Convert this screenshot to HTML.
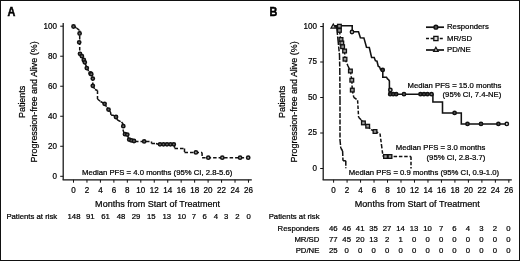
<!DOCTYPE html>
<html><head><meta charset="utf-8"><style>
html,body{margin:0;padding:0;background:#fff;}
body{width:520px;height:261px;overflow:hidden;}
svg{display:block;font-family:"Liberation Sans", sans-serif;filter:blur(0.3px);}
svg text{fill:#000;stroke:#000;stroke-width:0.22px;}
</style></head><body>
<svg width="520" height="261" viewBox="0 0 520 261">
<rect x="0.5" y="0.5" width="519" height="260" fill="#fff" stroke="#111" stroke-width="1"/>
<text transform="translate(7.4,15.8) scale(0.89,1)" font-size="12.2" font-weight="bold" style="stroke-width:0.5px">A</text>
<text transform="translate(25.40,101.90) rotate(-90) scale(0.93,1)" font-size="9.6" text-anchor="middle">Patients</text>
<text transform="translate(37.10,101.90) rotate(-90) scale(0.93,1)" font-size="9.6" text-anchor="middle">Progression-free and Alive (%)</text>
<line x1="63.20" y1="23.00" x2="63.20" y2="179.80" stroke="#111" stroke-width="1.25"/>
<line x1="62.60" y1="179.80" x2="251.80" y2="179.80" stroke="#111" stroke-width="1.25"/>
<line x1="60.20" y1="26.20" x2="63.20" y2="26.20" stroke="#111" stroke-width="1.0"/>
<text transform="translate(57.00,28.55) scale(0.95,1)" font-size="8.5" text-anchor="end">100</text>
<line x1="60.20" y1="56.22" x2="63.20" y2="56.22" stroke="#111" stroke-width="1.0"/>
<text transform="translate(57.00,58.57) scale(0.95,1)" font-size="8.5" text-anchor="end">80</text>
<line x1="60.20" y1="86.24" x2="63.20" y2="86.24" stroke="#111" stroke-width="1.0"/>
<text transform="translate(57.00,88.59) scale(0.95,1)" font-size="8.5" text-anchor="end">60</text>
<line x1="60.20" y1="116.26" x2="63.20" y2="116.26" stroke="#111" stroke-width="1.0"/>
<text transform="translate(57.00,118.61) scale(0.95,1)" font-size="8.5" text-anchor="end">40</text>
<line x1="60.20" y1="146.28" x2="63.20" y2="146.28" stroke="#111" stroke-width="1.0"/>
<text transform="translate(57.00,148.63) scale(0.95,1)" font-size="8.5" text-anchor="end">20</text>
<line x1="60.20" y1="176.30" x2="63.20" y2="176.30" stroke="#111" stroke-width="1.0"/>
<text transform="translate(57.00,178.65) scale(0.95,1)" font-size="8.5" text-anchor="end">0</text>
<line x1="73.50" y1="179.80" x2="73.50" y2="182.70" stroke="#111" stroke-width="1.0"/>
<text transform="translate(73.50,193.1) scale(0.95,1)" font-size="8.5" text-anchor="middle">0</text>
<line x1="86.96" y1="179.80" x2="86.96" y2="182.70" stroke="#111" stroke-width="1.0"/>
<text transform="translate(86.96,193.1) scale(0.95,1)" font-size="8.5" text-anchor="middle">2</text>
<line x1="100.42" y1="179.80" x2="100.42" y2="182.70" stroke="#111" stroke-width="1.0"/>
<text transform="translate(100.42,193.1) scale(0.95,1)" font-size="8.5" text-anchor="middle">4</text>
<line x1="113.88" y1="179.80" x2="113.88" y2="182.70" stroke="#111" stroke-width="1.0"/>
<text transform="translate(113.88,193.1) scale(0.95,1)" font-size="8.5" text-anchor="middle">6</text>
<line x1="127.34" y1="179.80" x2="127.34" y2="182.70" stroke="#111" stroke-width="1.0"/>
<text transform="translate(127.34,193.1) scale(0.95,1)" font-size="8.5" text-anchor="middle">8</text>
<line x1="140.80" y1="179.80" x2="140.80" y2="182.70" stroke="#111" stroke-width="1.0"/>
<text transform="translate(140.80,193.1) scale(0.95,1)" font-size="8.5" text-anchor="middle">10</text>
<line x1="154.26" y1="179.80" x2="154.26" y2="182.70" stroke="#111" stroke-width="1.0"/>
<text transform="translate(154.26,193.1) scale(0.95,1)" font-size="8.5" text-anchor="middle">12</text>
<line x1="167.72" y1="179.80" x2="167.72" y2="182.70" stroke="#111" stroke-width="1.0"/>
<text transform="translate(167.72,193.1) scale(0.95,1)" font-size="8.5" text-anchor="middle">14</text>
<line x1="181.18" y1="179.80" x2="181.18" y2="182.70" stroke="#111" stroke-width="1.0"/>
<text transform="translate(181.18,193.1) scale(0.95,1)" font-size="8.5" text-anchor="middle">16</text>
<line x1="194.64" y1="179.80" x2="194.64" y2="182.70" stroke="#111" stroke-width="1.0"/>
<text transform="translate(194.64,193.1) scale(0.95,1)" font-size="8.5" text-anchor="middle">18</text>
<line x1="208.10" y1="179.80" x2="208.10" y2="182.70" stroke="#111" stroke-width="1.0"/>
<text transform="translate(208.10,193.1) scale(0.95,1)" font-size="8.5" text-anchor="middle">20</text>
<line x1="221.56" y1="179.80" x2="221.56" y2="182.70" stroke="#111" stroke-width="1.0"/>
<text transform="translate(221.56,193.1) scale(0.95,1)" font-size="8.5" text-anchor="middle">22</text>
<line x1="235.02" y1="179.80" x2="235.02" y2="182.70" stroke="#111" stroke-width="1.0"/>
<text transform="translate(235.02,193.1) scale(0.95,1)" font-size="8.5" text-anchor="middle">24</text>
<line x1="248.48" y1="179.80" x2="248.48" y2="182.70" stroke="#111" stroke-width="1.0"/>
<text transform="translate(248.48,193.1) scale(0.95,1)" font-size="8.5" text-anchor="middle">26</text>
<text transform="translate(157.60,206.90) scale(0.942,1)" font-size="9.6" text-anchor="middle">Months from Start of Treatment</text>
<text x="6.40" y="218.60" font-size="7.75" text-anchor="start" font-weight="normal" >Patients at risk</text>
<text x="74.00" y="218.60" font-size="7.75" text-anchor="middle" font-weight="normal" >148</text>
<text x="90.30" y="218.60" font-size="7.75" text-anchor="middle" font-weight="normal" >91</text>
<text x="105.50" y="218.60" font-size="7.75" text-anchor="middle" font-weight="normal" >61</text>
<text x="121.00" y="218.60" font-size="7.75" text-anchor="middle" font-weight="normal" >48</text>
<text x="136.00" y="218.60" font-size="7.75" text-anchor="middle" font-weight="normal" >29</text>
<text x="151.30" y="218.60" font-size="7.75" text-anchor="middle" font-weight="normal" >15</text>
<text x="166.70" y="218.60" font-size="7.75" text-anchor="middle" font-weight="normal" >13</text>
<text x="181.70" y="218.60" font-size="7.75" text-anchor="middle" font-weight="normal" >10</text>
<text x="193.90" y="218.60" font-size="7.75" text-anchor="middle" font-weight="normal" >7</text>
<text x="204.70" y="218.60" font-size="7.75" text-anchor="middle" font-weight="normal" >6</text>
<text x="215.80" y="218.60" font-size="7.75" text-anchor="middle" font-weight="normal" >4</text>
<text x="226.20" y="218.60" font-size="7.75" text-anchor="middle" font-weight="normal" >3</text>
<text x="237.30" y="218.60" font-size="7.75" text-anchor="middle" font-weight="normal" >2</text>
<text x="248.60" y="218.60" font-size="7.75" text-anchor="middle" font-weight="normal" >0</text>
<text x="82.00" y="174.80" font-size="7.72" text-anchor="start" font-weight="normal" >Median PFS = 4.0 months (95% CI, 2.8-5.6)</text>
<path d="M73.50 25.70 L76.50 28.00 M76.50 28.00 L79.70 30.50 M79.70 30.50 L79.70 52.00 M79.70 52.00 L81.50 55.80 M81.50 55.80 L84.00 60.00 M84.00 60.00 L85.00 63.00 M85.00 63.00 L87.00 68.00 M87.00 68.00 L89.00 72.00 M89.00 72.00 L91.00 73.50 M91.00 73.50 L92.80 77.00 M92.80 77.00 L92.80 86.00 M92.80 86.00 L95.00 89.50 M95.00 89.50 L97.50 90.50 M97.50 90.50 L97.50 99.00 M97.50 99.00 L100.50 101.50 M100.50 101.50 L104.60 103.80 M104.60 103.80 L107.00 107.50 M107.00 107.50 L108.50 109.60 M108.50 109.60 L110.50 112.00 M110.50 112.00 L111.00 115.00 M111.00 115.00 L114.00 115.50 M114.00 115.50 L116.00 117.00 M116.00 117.00 L117.50 120.00 M117.50 120.00 L121.50 122.00 M121.50 122.00 L123.20 124.00 M123.20 124.00 L123.20 131.00 M123.20 131.00 L125.00 134.20 M125.00 134.20 L127.30 134.60 M127.30 134.60 L129.00 139.60 M129.00 139.60 L131.50 140.80 M131.50 140.80 L135.00 141.50 M135.00 141.50 L151.50 141.50 M151.50 141.50 L151.50 143.50 M151.50 143.50 L156.00 143.50 M156.00 143.50 L158.00 144.30 M158.00 144.30 L174.50 144.30 M174.50 144.30 L174.50 148.40 M174.50 148.40 L184.50 148.40 M184.50 148.40 L184.50 152.50 M184.50 152.50 L202.10 152.40 M202.10 152.40 L202.10 157.70 M202.10 157.70 L248.50 157.70" fill="none" stroke="#111" stroke-width="1.5" stroke-linejoin="miter" stroke-dasharray="3.5 2"/>
<circle cx="73.50" cy="26.50" r="1.65" fill="#666" stroke="#111" stroke-width="1.5"/>
<circle cx="79.60" cy="33.50" r="1.65" fill="#666" stroke="#111" stroke-width="1.5"/>
<circle cx="79.20" cy="42.30" r="1.65" fill="#666" stroke="#111" stroke-width="1.5"/>
<circle cx="80.00" cy="53.80" r="1.65" fill="#666" stroke="#111" stroke-width="1.5"/>
<circle cx="81.90" cy="56.20" r="1.65" fill="#666" stroke="#111" stroke-width="1.5"/>
<circle cx="83.80" cy="60.00" r="1.65" fill="#666" stroke="#111" stroke-width="1.5"/>
<circle cx="84.80" cy="62.30" r="1.65" fill="#666" stroke="#111" stroke-width="1.5"/>
<circle cx="86.80" cy="68.10" r="1.65" fill="#666" stroke="#111" stroke-width="1.5"/>
<circle cx="90.50" cy="73.50" r="1.65" fill="#666" stroke="#111" stroke-width="1.5"/>
<circle cx="91.30" cy="74.20" r="1.65" fill="#666" stroke="#111" stroke-width="1.5"/>
<circle cx="92.80" cy="78.60" r="1.65" fill="#666" stroke="#111" stroke-width="1.5"/>
<circle cx="92.80" cy="85.80" r="1.65" fill="#666" stroke="#111" stroke-width="1.5"/>
<circle cx="104.60" cy="103.80" r="1.65" fill="#666" stroke="#111" stroke-width="1.5"/>
<circle cx="108.50" cy="109.60" r="1.65" fill="#666" stroke="#111" stroke-width="1.5"/>
<circle cx="116.00" cy="117.00" r="1.65" fill="#666" stroke="#111" stroke-width="1.5"/>
<circle cx="123.30" cy="126.20" r="1.65" fill="#666" stroke="#111" stroke-width="1.5"/>
<circle cx="125.00" cy="134.20" r="1.65" fill="#666" stroke="#111" stroke-width="1.5"/>
<circle cx="127.30" cy="134.60" r="1.65" fill="#666" stroke="#111" stroke-width="1.5"/>
<circle cx="129.20" cy="139.60" r="1.65" fill="#666" stroke="#111" stroke-width="1.5"/>
<circle cx="131.50" cy="140.40" r="1.65" fill="#666" stroke="#111" stroke-width="1.5"/>
<circle cx="134.00" cy="141.00" r="1.65" fill="#666" stroke="#111" stroke-width="1.5"/>
<circle cx="144.20" cy="141.40" r="1.65" fill="#666" stroke="#111" stroke-width="1.5"/>
<circle cx="160.00" cy="144.30" r="1.65" fill="#666" stroke="#111" stroke-width="1.5"/>
<circle cx="163.50" cy="144.30" r="1.65" fill="#666" stroke="#111" stroke-width="1.5"/>
<circle cx="167.00" cy="144.30" r="1.65" fill="#666" stroke="#111" stroke-width="1.5"/>
<circle cx="170.50" cy="144.30" r="1.65" fill="#666" stroke="#111" stroke-width="1.5"/>
<circle cx="173.80" cy="144.30" r="1.65" fill="#666" stroke="#111" stroke-width="1.5"/>
<circle cx="195.90" cy="152.40" r="1.65" fill="#a0a0a0" stroke="#111" stroke-width="1.5"/>
<circle cx="208.30" cy="157.70" r="1.65" fill="#a0a0a0" stroke="#111" stroke-width="1.5"/>
<circle cx="222.30" cy="157.70" r="1.65" fill="#a0a0a0" stroke="#111" stroke-width="1.5"/>
<circle cx="240.10" cy="157.70" r="1.65" fill="#a0a0a0" stroke="#111" stroke-width="1.5"/>
<circle cx="248.20" cy="157.70" r="1.65" fill="#a0a0a0" stroke="#111" stroke-width="1.5"/>
<text transform="translate(269.6,15.8) scale(0.89,1)" font-size="12.2" font-weight="bold" style="stroke-width:0.5px">B</text>
<text transform="translate(285.40,101.90) rotate(-90) scale(0.93,1)" font-size="9.6" text-anchor="middle">Patients</text>
<text transform="translate(297.10,101.90) rotate(-90) scale(0.93,1)" font-size="9.6" text-anchor="middle">Progression-free and Alive (%)</text>
<line x1="323.20" y1="23.00" x2="323.20" y2="179.80" stroke="#111" stroke-width="1.25"/>
<line x1="322.60" y1="179.80" x2="511.80" y2="179.80" stroke="#111" stroke-width="1.25"/>
<line x1="320.20" y1="26.50" x2="323.20" y2="26.50" stroke="#111" stroke-width="1.0"/>
<text transform="translate(317.00,28.85) scale(0.95,1)" font-size="8.5" text-anchor="end">100</text>
<line x1="320.20" y1="62.00" x2="323.20" y2="62.00" stroke="#111" stroke-width="1.0"/>
<text transform="translate(317.00,64.35) scale(0.95,1)" font-size="8.5" text-anchor="end">75</text>
<line x1="320.20" y1="97.50" x2="323.20" y2="97.50" stroke="#111" stroke-width="1.0"/>
<text transform="translate(317.00,99.85) scale(0.95,1)" font-size="8.5" text-anchor="end">50</text>
<line x1="320.20" y1="133.00" x2="323.20" y2="133.00" stroke="#111" stroke-width="1.0"/>
<text transform="translate(317.00,135.35) scale(0.95,1)" font-size="8.5" text-anchor="end">25</text>
<line x1="320.20" y1="168.50" x2="323.20" y2="168.50" stroke="#111" stroke-width="1.0"/>
<text transform="translate(317.00,170.85) scale(0.95,1)" font-size="8.5" text-anchor="end">0</text>
<line x1="333.60" y1="179.80" x2="333.60" y2="182.70" stroke="#111" stroke-width="1.0"/>
<text transform="translate(333.60,193.1) scale(0.95,1)" font-size="8.5" text-anchor="middle">0</text>
<line x1="347.08" y1="179.80" x2="347.08" y2="182.70" stroke="#111" stroke-width="1.0"/>
<text transform="translate(347.08,193.1) scale(0.95,1)" font-size="8.5" text-anchor="middle">2</text>
<line x1="360.56" y1="179.80" x2="360.56" y2="182.70" stroke="#111" stroke-width="1.0"/>
<text transform="translate(360.56,193.1) scale(0.95,1)" font-size="8.5" text-anchor="middle">4</text>
<line x1="374.04" y1="179.80" x2="374.04" y2="182.70" stroke="#111" stroke-width="1.0"/>
<text transform="translate(374.04,193.1) scale(0.95,1)" font-size="8.5" text-anchor="middle">6</text>
<line x1="387.52" y1="179.80" x2="387.52" y2="182.70" stroke="#111" stroke-width="1.0"/>
<text transform="translate(387.52,193.1) scale(0.95,1)" font-size="8.5" text-anchor="middle">8</text>
<line x1="401.00" y1="179.80" x2="401.00" y2="182.70" stroke="#111" stroke-width="1.0"/>
<text transform="translate(401.00,193.1) scale(0.95,1)" font-size="8.5" text-anchor="middle">10</text>
<line x1="414.48" y1="179.80" x2="414.48" y2="182.70" stroke="#111" stroke-width="1.0"/>
<text transform="translate(414.48,193.1) scale(0.95,1)" font-size="8.5" text-anchor="middle">12</text>
<line x1="427.96" y1="179.80" x2="427.96" y2="182.70" stroke="#111" stroke-width="1.0"/>
<text transform="translate(427.96,193.1) scale(0.95,1)" font-size="8.5" text-anchor="middle">14</text>
<line x1="441.44" y1="179.80" x2="441.44" y2="182.70" stroke="#111" stroke-width="1.0"/>
<text transform="translate(441.44,193.1) scale(0.95,1)" font-size="8.5" text-anchor="middle">16</text>
<line x1="454.92" y1="179.80" x2="454.92" y2="182.70" stroke="#111" stroke-width="1.0"/>
<text transform="translate(454.92,193.1) scale(0.95,1)" font-size="8.5" text-anchor="middle">18</text>
<line x1="468.40" y1="179.80" x2="468.40" y2="182.70" stroke="#111" stroke-width="1.0"/>
<text transform="translate(468.40,193.1) scale(0.95,1)" font-size="8.5" text-anchor="middle">20</text>
<line x1="481.88" y1="179.80" x2="481.88" y2="182.70" stroke="#111" stroke-width="1.0"/>
<text transform="translate(481.88,193.1) scale(0.95,1)" font-size="8.5" text-anchor="middle">22</text>
<line x1="495.36" y1="179.80" x2="495.36" y2="182.70" stroke="#111" stroke-width="1.0"/>
<text transform="translate(495.36,193.1) scale(0.95,1)" font-size="8.5" text-anchor="middle">24</text>
<line x1="508.84" y1="179.80" x2="508.84" y2="182.70" stroke="#111" stroke-width="1.0"/>
<text transform="translate(508.84,193.1) scale(0.95,1)" font-size="8.5" text-anchor="middle">26</text>
<text transform="translate(417.30,206.90) scale(0.942,1)" font-size="9.6" text-anchor="middle">Months from Start of Treatment</text>
<text x="268.70" y="218.60" font-size="7.75" text-anchor="start" font-weight="normal" >Patients at risk</text>
<text x="319.40" y="230.50" font-size="7.75" text-anchor="end" font-weight="normal" >Responders</text>
<text x="333.20" y="230.50" font-size="7.75" text-anchor="middle" font-weight="normal" >46</text>
<text x="346.68" y="230.50" font-size="7.75" text-anchor="middle" font-weight="normal" >46</text>
<text x="360.16" y="230.50" font-size="7.75" text-anchor="middle" font-weight="normal" >41</text>
<text x="373.64" y="230.50" font-size="7.75" text-anchor="middle" font-weight="normal" >35</text>
<text x="387.12" y="230.50" font-size="7.75" text-anchor="middle" font-weight="normal" >27</text>
<text x="400.60" y="230.50" font-size="7.75" text-anchor="middle" font-weight="normal" >14</text>
<text x="414.08" y="230.50" font-size="7.75" text-anchor="middle" font-weight="normal" >13</text>
<text x="427.56" y="230.50" font-size="7.75" text-anchor="middle" font-weight="normal" >10</text>
<text x="441.04" y="230.50" font-size="7.75" text-anchor="middle" font-weight="normal" >7</text>
<text x="454.52" y="230.50" font-size="7.75" text-anchor="middle" font-weight="normal" >6</text>
<text x="468.00" y="230.50" font-size="7.75" text-anchor="middle" font-weight="normal" >4</text>
<text x="481.48" y="230.50" font-size="7.75" text-anchor="middle" font-weight="normal" >3</text>
<text x="494.96" y="230.50" font-size="7.75" text-anchor="middle" font-weight="normal" >2</text>
<text x="508.44" y="230.50" font-size="7.75" text-anchor="middle" font-weight="normal" >0</text>
<text x="319.40" y="241.70" font-size="7.75" text-anchor="end" font-weight="normal" >MR/SD</text>
<text x="333.20" y="241.70" font-size="7.75" text-anchor="middle" font-weight="normal" >77</text>
<text x="346.68" y="241.70" font-size="7.75" text-anchor="middle" font-weight="normal" >45</text>
<text x="360.16" y="241.70" font-size="7.75" text-anchor="middle" font-weight="normal" >20</text>
<text x="373.64" y="241.70" font-size="7.75" text-anchor="middle" font-weight="normal" >13</text>
<text x="387.12" y="241.70" font-size="7.75" text-anchor="middle" font-weight="normal" >2</text>
<text x="400.60" y="241.70" font-size="7.75" text-anchor="middle" font-weight="normal" >1</text>
<text x="414.08" y="241.70" font-size="7.75" text-anchor="middle" font-weight="normal" >0</text>
<text x="427.56" y="241.70" font-size="7.75" text-anchor="middle" font-weight="normal" >0</text>
<text x="441.04" y="241.70" font-size="7.75" text-anchor="middle" font-weight="normal" >0</text>
<text x="454.52" y="241.70" font-size="7.75" text-anchor="middle" font-weight="normal" >0</text>
<text x="468.00" y="241.70" font-size="7.75" text-anchor="middle" font-weight="normal" >0</text>
<text x="481.48" y="241.70" font-size="7.75" text-anchor="middle" font-weight="normal" >0</text>
<text x="494.96" y="241.70" font-size="7.75" text-anchor="middle" font-weight="normal" >0</text>
<text x="508.44" y="241.70" font-size="7.75" text-anchor="middle" font-weight="normal" >0</text>
<text x="319.40" y="252.90" font-size="7.75" text-anchor="end" font-weight="normal" >PD/NE</text>
<text x="333.20" y="252.90" font-size="7.75" text-anchor="middle" font-weight="normal" >25</text>
<text x="346.68" y="252.90" font-size="7.75" text-anchor="middle" font-weight="normal" >0</text>
<text x="360.16" y="252.90" font-size="7.75" text-anchor="middle" font-weight="normal" >0</text>
<text x="373.64" y="252.90" font-size="7.75" text-anchor="middle" font-weight="normal" >0</text>
<text x="387.12" y="252.90" font-size="7.75" text-anchor="middle" font-weight="normal" >0</text>
<text x="400.60" y="252.90" font-size="7.75" text-anchor="middle" font-weight="normal" >0</text>
<text x="414.08" y="252.90" font-size="7.75" text-anchor="middle" font-weight="normal" >0</text>
<text x="427.56" y="252.90" font-size="7.75" text-anchor="middle" font-weight="normal" >0</text>
<text x="441.04" y="252.90" font-size="7.75" text-anchor="middle" font-weight="normal" >0</text>
<text x="454.52" y="252.90" font-size="7.75" text-anchor="middle" font-weight="normal" >0</text>
<text x="468.00" y="252.90" font-size="7.75" text-anchor="middle" font-weight="normal" >0</text>
<text x="481.48" y="252.90" font-size="7.75" text-anchor="middle" font-weight="normal" >0</text>
<text x="494.96" y="252.90" font-size="7.75" text-anchor="middle" font-weight="normal" >0</text>
<text x="508.44" y="252.90" font-size="7.75" text-anchor="middle" font-weight="normal" >0</text>
<text x="501.30" y="88.00" font-size="7.72" text-anchor="end" font-weight="normal" >Median PFS = 15.0 months</text>
<text x="501.30" y="97.30" font-size="7.72" text-anchor="end" font-weight="normal" >(95% CI, 7.4-NE)</text>
<text x="485.30" y="150.40" font-size="7.72" text-anchor="end" font-weight="normal" >Median PFS = 3.0 months</text>
<text x="485.30" y="159.60" font-size="7.72" text-anchor="end" font-weight="normal" >(95% CI, 2.8-3.7)</text>
<text x="348.80" y="175.10" font-size="7.72" text-anchor="start" font-weight="normal" >Median PFS = 0.9 months (95% CI, 0.9-1.0)</text>
<path d="M333.60 25.70 L352.20 25.70 L352.20 31.80 L358.50 31.80 L360.40 37.80 L363.90 37.90 L366.50 47.30 L369.30 47.50 L371.60 57.40 L374.20 57.50 L375.40 60.70 L377.00 61.20 L378.20 66.30 L379.60 67.00 L380.60 69.80 L382.80 69.90 L382.80 77.20 L386.50 77.20 L387.50 79.00 L388.50 79.50 L389.40 81.00 L389.40 94.20 L432.90 94.20 L432.90 101.90 L442.50 101.90 L442.50 112.90 L461.30 112.90 L461.30 123.90 L507.40 123.90" fill="none" stroke="#111" stroke-width="1.55" stroke-linejoin="miter"/>
<circle cx="352.00" cy="32.00" r="1.65" fill="#ddd" stroke="#111" stroke-width="1.5"/>
<circle cx="382.70" cy="69.90" r="1.65" fill="#444" stroke="#111" stroke-width="1.5"/>
<circle cx="390.40" cy="90.00" r="1.65" fill="#bbb" stroke="#111" stroke-width="1.5"/>
<circle cx="390.20" cy="94.20" r="1.65" fill="#444" stroke="#111" stroke-width="1.5"/>
<circle cx="393.20" cy="94.20" r="1.65" fill="#444" stroke="#111" stroke-width="1.5"/>
<circle cx="396.20" cy="94.20" r="1.65" fill="#444" stroke="#111" stroke-width="1.5"/>
<circle cx="404.00" cy="94.20" r="1.65" fill="#666" stroke="#111" stroke-width="1.5"/>
<circle cx="420.50" cy="94.20" r="1.65" fill="#444" stroke="#111" stroke-width="1.5"/>
<circle cx="424.00" cy="94.20" r="1.65" fill="#444" stroke="#111" stroke-width="1.5"/>
<circle cx="427.50" cy="94.20" r="1.65" fill="#444" stroke="#111" stroke-width="1.5"/>
<circle cx="431.50" cy="94.20" r="1.65" fill="#777" stroke="#111" stroke-width="1.5"/>
<circle cx="454.60" cy="112.90" r="1.65" fill="#555" stroke="#111" stroke-width="1.5"/>
<circle cx="467.50" cy="123.90" r="1.65" fill="#555" stroke="#111" stroke-width="1.5"/>
<circle cx="481.00" cy="123.90" r="1.65" fill="#555" stroke="#111" stroke-width="1.5"/>
<circle cx="498.40" cy="123.90" r="1.65" fill="#555" stroke="#111" stroke-width="1.5"/>
<circle cx="506.80" cy="123.90" r="1.65" fill="#eee" stroke="#111" stroke-width="1.5"/>
<path d="M333.60 26.10 L339.50 26.10 M339.50 26.10 L339.50 31.00 M339.50 31.00 L340.50 38.00 M340.50 38.00 L341.50 42.00 M341.50 42.00 L342.00 46.00 M342.00 46.00 L344.50 51.00 M344.50 51.00 L345.00 59.00 M345.00 59.00 L348.00 66.00 M348.00 66.00 L350.40 71.00 M350.40 71.00 L351.80 80.20 M351.80 80.20 L352.30 90.10 M352.30 90.10 L353.80 97.30 M353.80 97.30 L357.60 100.20 M357.60 100.20 L358.60 117.30 M358.60 117.30 L361.20 120.00 M361.20 120.00 L363.40 122.90 M363.40 122.90 L367.70 126.20 M367.70 126.20 L371.00 129.60 M371.00 129.60 L375.00 131.50 M375.00 131.50 L380.00 133.50 M380.00 133.50 L381.50 145.00 M381.50 145.00 L383.00 156.50 M383.00 156.50 L411.00 156.50 M411.00 156.50 L411.00 168.40" fill="none" stroke="#111" stroke-width="1.5" stroke-linejoin="miter" stroke-dasharray="3.5 1.8"/>
<rect x="337.55" y="24.35" width="3.7" height="3.7" fill="#999" stroke="#111" stroke-width="1.3"/>
<rect x="337.55" y="28.55" width="3.7" height="3.7" fill="#999" stroke="#111" stroke-width="1.3"/>
<rect x="339.15" y="37.65" width="3.7" height="3.7" fill="#999" stroke="#111" stroke-width="1.3"/>
<rect x="339.95" y="41.15" width="3.7" height="3.7" fill="#999" stroke="#111" stroke-width="1.3"/>
<rect x="340.75" y="44.85" width="3.7" height="3.7" fill="#999" stroke="#111" stroke-width="1.3"/>
<rect x="342.75" y="49.15" width="3.7" height="3.7" fill="#999" stroke="#111" stroke-width="1.3"/>
<rect x="343.15" y="57.35" width="3.7" height="3.7" fill="#999" stroke="#111" stroke-width="1.3"/>
<rect x="348.55" y="69.15" width="3.7" height="3.7" fill="#999" stroke="#111" stroke-width="1.3"/>
<rect x="349.95" y="78.35" width="3.7" height="3.7" fill="#999" stroke="#111" stroke-width="1.3"/>
<rect x="350.45" y="88.25" width="3.7" height="3.7" fill="#999" stroke="#111" stroke-width="1.3"/>
<rect x="361.55" y="121.05" width="3.7" height="3.7" fill="#999" stroke="#111" stroke-width="1.3"/>
<rect x="365.85" y="124.35" width="3.7" height="3.7" fill="#999" stroke="#111" stroke-width="1.3"/>
<rect x="373.15" y="129.65" width="3.7" height="3.7" fill="#999" stroke="#111" stroke-width="1.3"/>
<rect x="383.65" y="154.65" width="3.7" height="3.7" fill="#999" stroke="#111" stroke-width="1.3"/>
<rect x="388.15" y="154.65" width="3.7" height="3.7" fill="#999" stroke="#111" stroke-width="1.3"/>
<path d="M333.60 26.10 L336.50 26.10 M336.50 26.10 L337.00 30.00 M337.00 30.00 L338.00 40.00 M338.00 40.00 L339.50 55.00 M339.50 55.00 L339.80 70.00 M339.80 70.00 L340.00 100.00 M340.00 100.00 L340.00 140.00 M340.00 140.00 L340.80 148.00 M340.80 148.00 L342.60 151.00 M342.60 151.00 L343.00 160.80 M343.00 160.80 L345.80 160.80 M345.80 160.80 L345.80 168.20" fill="none" stroke="#111" stroke-width="1.5" stroke-linejoin="miter" stroke-dasharray="5 1.5"/>
<path d="M333.30 23.93 L335.60 28.07 L331.00 28.07 Z" fill="#c8c8c8" stroke="#111" stroke-width="1.2"/>
<line x1="426.00" y1="27.20" x2="444.00" y2="27.20" stroke="#111" stroke-width="1.7"/>
<circle cx="435.90" cy="27.20" r="1.9" fill="#555" stroke="#111" stroke-width="1.4"/>
<text x="447.00" y="29.30" font-size="7.75" text-anchor="start" font-weight="normal" >Responders</text>
<line x1="426.00" y1="38.50" x2="444.00" y2="38.50" stroke="#111" stroke-width="1.7" stroke-dasharray="3 1.6"/>
<rect x="433.80" y="36.40" width="4.2" height="4.2" fill="#ddd" stroke="#111" stroke-width="1.3"/>
<text x="447.00" y="40.60" font-size="7.75" text-anchor="start" font-weight="normal" >MR/SD</text>
<line x1="426.00" y1="50.00" x2="444.00" y2="50.00" stroke="#111" stroke-width="1.7"/>
<path d="M435.90 47.23 L438.20 51.37 L433.60 51.37 Z" fill="#c8c8c8" stroke="#111" stroke-width="1.2"/>
<text x="447.00" y="51.70" font-size="7.75" text-anchor="start" font-weight="normal" >PD/NE</text>
</svg>
</body></html>
